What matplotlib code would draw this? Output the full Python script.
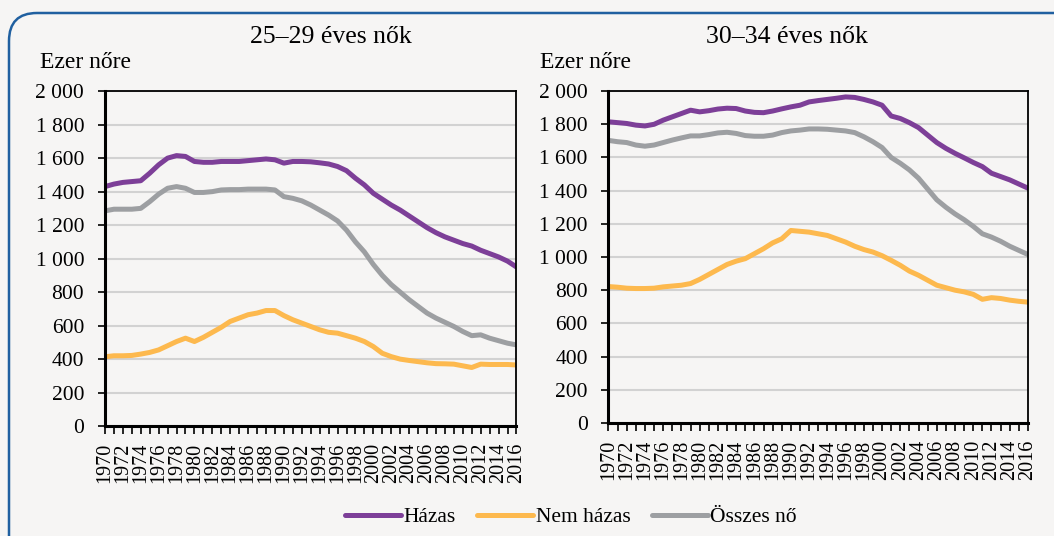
import matplotlib
matplotlib.use("Agg")
import matplotlib.pyplot as plt
from matplotlib.patches import FancyBboxPatch
from matplotlib.transforms import IdentityTransform
from matplotlib.ticker import FuncFormatter, MultipleLocator

plt.rcParams['font.family'] = ['Liberation Serif', 'DejaVu Serif']

years = list(range(1970, 2017))

# 25-29 éves nők
hazas_25 = [1430, 1445, 1455, 1460, 1465, 1510, 1560, 1600, 1615, 1610,
            1580, 1575, 1575, 1580, 1580, 1580, 1585, 1590, 1595, 1590,
            1570, 1580, 1580, 1578, 1572, 1565, 1550, 1525, 1480, 1440,
            1390, 1355, 1320, 1290, 1255, 1220, 1185, 1155, 1130, 1110,
            1090, 1075, 1050, 1030, 1010, 985, 950]
nemhazas_25 = [414, 420, 420, 422, 430, 440, 455, 480, 505, 525,
               505, 530, 560, 590, 625, 645, 665, 675, 690, 690,
               660, 635, 615, 595, 575, 560, 555, 540, 525, 505,
               475, 435, 415, 400, 392, 385, 378, 373, 372, 370,
               360, 350, 370, 368, 368, 368, 365]
osszes_25 = [1285, 1295, 1295, 1295, 1300, 1340, 1385, 1420, 1430, 1420,
             1395, 1395, 1400, 1410, 1412, 1412, 1415, 1415, 1415, 1410,
             1370, 1360, 1345, 1320, 1290, 1260, 1225, 1170, 1100, 1040,
             965, 900, 845, 800, 755, 715, 675, 645, 620, 595,
             565, 540, 545, 525, 510, 495, 485]

# 30-34 éves nők
hazas_30 = [1815, 1810, 1805, 1795, 1790, 1800, 1825, 1845, 1865, 1885,
            1875, 1882, 1892, 1897, 1895, 1880, 1872, 1870, 1880, 1893,
            1905, 1915, 1935, 1943, 1950, 1957, 1965, 1962, 1950, 1935,
            1915, 1850, 1835, 1810, 1780, 1735, 1690, 1655, 1625, 1598,
            1570, 1545, 1505, 1485, 1465, 1440, 1415]
nemhazas_30 = [822, 818, 812, 810, 810, 812, 820, 825, 830, 840,
               865, 895, 925, 955, 975, 990, 1020, 1050, 1085, 1110,
               1160, 1155, 1150, 1140, 1130, 1110, 1090, 1065, 1045, 1030,
               1008, 980, 950, 915, 890, 860, 830, 815, 800, 790,
               775, 745, 755, 750, 740, 733, 728]
osszes_30 = [1703, 1695, 1690, 1675, 1668, 1675, 1690, 1705, 1718, 1730,
             1730, 1738, 1748, 1752, 1745, 1732, 1728, 1728, 1735, 1750,
             1760, 1765, 1772, 1772, 1770, 1765, 1760, 1750, 1725, 1695,
             1660, 1600, 1565, 1525, 1475, 1410, 1345, 1300, 1260, 1225,
             1185, 1140, 1120, 1095, 1065, 1040, 1015]

titles = ['25–29 éves nők', '30–34 éves nők']
labels = ['Házas', 'Nem házas', 'Összes nő']
colors = ['#7d3f98', '#fdb94e', '#9d9fa2']
bg = '#f6f5f4'

fig = plt.figure(figsize=(10.54, 5.36), dpi=100, facecolor=bg)

# kék lekerekített keret
frame = FancyBboxPatch((9, -30), 1100, 536 - 13 + 30,
                       boxstyle="round,pad=0,rounding_size=28",
                       transform=IdentityTransform(), facecolor='none',
                       edgecolor='#2060a0', linewidth=1.8)
fig.patches.append(frame)

ax1 = fig.add_axes([0.0996, 0.205, 0.3904, 0.625])
ax2 = fig.add_axes([0.5773, 0.211, 0.3980, 0.619])

def thousands(v, pos):
    return '{:,.0f}'.format(v).replace(',', ' ')

data = [(hazas_25, nemhazas_25, osszes_25), (hazas_30, nemhazas_30, osszes_30)]
title_x = [331 / 1054, 787 / 1054]
ezer_x = [40 / 1054, 540 / 1054]
for ax, title, series, tx, ex in zip([ax1, ax2], titles, data, title_x, ezer_x):
    ax.set_facecolor(bg)
    lines = []
    for s, c, lab in zip(series, colors, labels):
        ln, = ax.plot(years, s, color=c, lw=3.6, solid_capstyle='round', label=lab)
        lines.append(ln)
    ax.set_xlim(1970, 2016)
    ax.set_ylim(0, 2000)
    ax.yaxis.set_major_locator(MultipleLocator(200))
    ax.yaxis.set_major_formatter(FuncFormatter(thousands))
    ax.xaxis.set_major_locator(MultipleLocator(2))
    ax.xaxis.set_minor_locator(MultipleLocator(1))
    ax.grid(axis='y', color='#d2d2d2', lw=1.5)
    ax.set_axisbelow(True)
    ax.tick_params(axis='x', which='both', direction='out', length=6, width=1.2,
                   labelrotation=90, labelsize=14.5, pad=6)
    ax.tick_params(axis='y', length=5, width=1.2, labelsize=15.5, pad=10)
    for sp in ['left', 'bottom']:
        ax.spines[sp].set_linewidth(2.2)
    for sp in ['top', 'right']:
        ax.spines[sp].set_linewidth(1.3)
    fig.text(tx, 1 - 37 / 536, title, fontsize=18.5, ha='center', va='center')
    fig.text(ex, 1 - 62 / 536, 'Ezer nőre', fontsize=17, ha='left', va='center')

fig.legend(lines, labels, loc='center', bbox_to_anchor=(571 / 1054, 1 - 517 / 536),
           ncol=3, frameon=False, fontsize=15.5, handlelength=2.6,
           handletextpad=0.1, columnspacing=1.0)

fig.savefig('out.png', dpi=100, facecolor=bg)
